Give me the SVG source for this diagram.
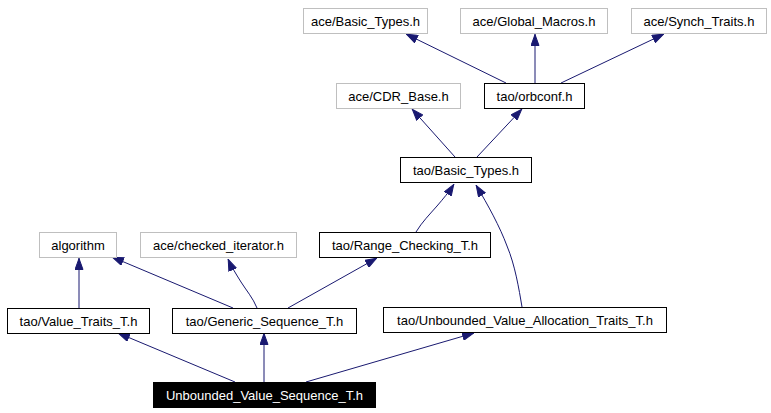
<svg xmlns="http://www.w3.org/2000/svg" width="771" height="413" viewBox="0 0 771 413">
<style>
.n rect{fill:#fff;stroke:#000;stroke-width:1}
.g rect{stroke:#bfbfbf}
.n text{font-family:"Liberation Sans",Arial,sans-serif;font-size:13px;fill:#000;text-anchor:middle}
.root rect{fill:#000;stroke:#000}
.root text{fill:#fff}
.e path{fill:none;stroke:#191970;stroke-width:1;marker-end:url(#ah)}
</style>
<defs>
<marker id="ah" viewBox="0 0 12 9" refX="12" refY="4.5" markerWidth="12" markerHeight="9" markerUnits="userSpaceOnUse" orient="auto">
<path d="M0.5,0.5 L11.5,4.5 L0.5,8.5 z" fill="#191970" stroke="#191970" stroke-width="1"/>
</marker>
</defs>
<rect width="771" height="413" fill="#fff"/>
<g id="connectors" class="e">
<path d="M506,83 L406,34"/>
<path d="M535,83 L535,34"/>
<path d="M561,83 L664,34"/>
<path d="M455,157 L412,109"/>
<path d="M477,157 L522,109"/>
<path d="M416,232 C422,222 430,214 437,206 C443,199 449,192 454,184"/>
<path d="M522,307 C519,289 515,265 507,246 C500,227 488,205 476,185"/>
<path d="M79,308 L79,258"/>
<path d="M233,308 L112,257"/>
<path d="M257,308 C253,298 246,290 241,282 C236,274 231,266 228,259"/>
<path d="M288,308 L377,258"/>
<path d="M235,382 L118,333"/>
<path d="M264,382 L264,333"/>
<path d="M306,382 L474,333"/>
</g>
<g id="ace_Basic_Types" class="n g"><rect x="303.5" y="8.5" width="124" height="25"/><text x="365.5" y="25.5">ace/Basic_Types.h</text></g>
<g id="ace_Global_Macros" class="n g"><rect x="460.5" y="8.5" width="147" height="25"/><text x="534" y="25.5">ace/Global_Macros.h</text></g>
<g id="ace_Synch_Traits" class="n g"><rect x="631.5" y="8.5" width="135" height="25"/><text x="699" y="25.5">ace/Synch_Traits.h</text></g>
<g id="ace_CDR_Base" class="n g"><rect x="336.5" y="83.5" width="124" height="25"/><text x="398.5" y="100.5">ace/CDR_Base.h</text></g>
<g id="tao_orbconf" class="n"><rect x="484.5" y="83.5" width="100" height="25"/><text x="534.5" y="100.5">tao/orbconf.h</text></g>
<g id="tao_Basic_Types" class="n"><rect x="400.5" y="157.5" width="131" height="25"/><text x="466" y="174.5">tao/Basic_Types.h</text></g>
<g id="algorithm" class="n g"><rect x="39.5" y="232.5" width="77" height="25"/><text x="78" y="249.5">algorithm</text></g>
<g id="ace_checked_iterator" class="n g"><rect x="140.5" y="232.5" width="156" height="25"/><text x="218.5" y="249.5">ace/checked_iterator.h</text></g>
<g id="tao_Range_Checking_T" class="n"><rect x="319.5" y="232.5" width="171" height="25"/><text x="405" y="249.5">tao/Range_Checking_T.h</text></g>
<g id="tao_Value_Traits_T" class="n"><rect x="7.5" y="308.5" width="142" height="25"/><text x="78.5" y="325.5">tao/Value_Traits_T.h</text></g>
<g id="tao_Generic_Sequence_T" class="n"><rect x="172.5" y="308.5" width="184" height="25"/><text x="264.5" y="325.5">tao/Generic_Sequence_T.h</text></g>
<g id="tao_Unbounded_Value_Allocation_Traits_T" class="n"><rect x="383.5" y="307.5" width="283" height="25"/><text x="525" y="324.5">tao/Unbounded_Value_Allocation_Traits_T.h</text></g>
<g id="Unbounded_Value_Sequence_T" class="n root"><rect x="153.5" y="382.5" width="222" height="25"/><text x="264.5" y="399.5">Unbounded_Value_Sequence_T.h</text></g>
</svg>
